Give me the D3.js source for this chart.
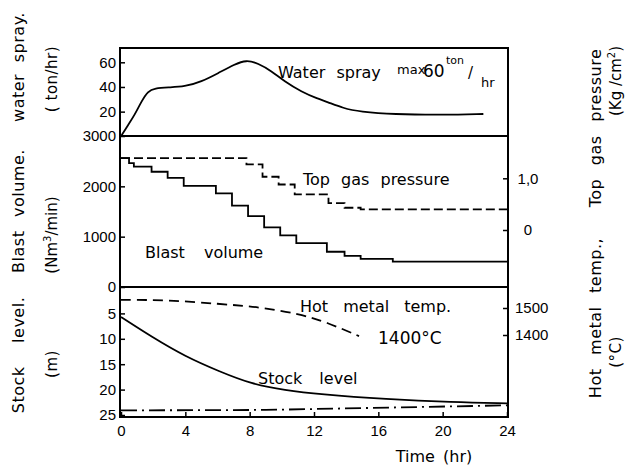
<!DOCTYPE html>
<html>
<head>
<meta charset="utf-8">
<script src="https://cdn.jsdelivr.net/npm/d3@7"></script>
<style>
  body { margin: 0; background: #fff; }
  svg { font-family: "DejaVu Sans", sans-serif; }
  .tick text { font-size: 15px; fill: #000; }
  .tick line { stroke: #000; stroke-width: 1.5; }
</style>
</head>
<body>
<svg id="chart" width="628" height="467"></svg>
<script>
// hours
const timeTicks = [0, 4, 8, 12, 16, 20, 24];

// water spray (ton/hr)
const waterT = [0, 0.44, 0.85, 1.26, 1.68, 2.1, 2.92, 3.96, 5.0, 6.03, 7.07, 7.79, 8.52, 9.35, 10.18, 11.21, 12.25, 12.79, 13.82, 14.86, 16.93, 20.04, 22.53];
const waterV = [0, 9.2, 17.3, 28, 36.7, 38.9, 39.7, 40.2, 44.3, 51.1, 58.4, 61.9, 59.2, 53, 44.3, 36.2, 30.3, 28.1, 22.7, 20, 17.8, 17.3, 18.1];

// blast volume (Nm3/min), steps: value holds from time until next time
const blastT = [0, 0.5, 0.8, 1.9, 2.9, 3.9, 5.9, 6.9, 7.9, 8.9, 9.9, 10.9, 12.8, 13.9, 14.9, 16.9, 24];
const blastV = [2560, 2460, 2390, 2290, 2170, 2010, 1860, 1615, 1410, 1185, 1025, 870, 700, 620, 560, 505, 505];

// top gas pressure (kg/cm2), steps
const pressT = [0, 7.8, 8.8, 9.8, 10.8, 12.9, 13.9, 14.9, 24];
const pressV = [1.39, 1.27, 1.03, 0.88, 0.69, 0.52, 0.43, 0.40, 0.40];

// hot metal temperature (deg C)
const tempT = [0, 2.9, 6.1, 8.6, 11.1, 12.75, 14.8];
const tempV = [1530, 1530, 1515, 1504, 1478, 1448, 1396];

// stock level (m)
const stockT = [0, 1.9, 4.0, 6.1, 8.1, 10.2, 12.3, 16.5, 20.6, 24];
const stockV = [5.7, 9.6, 13.5, 16.4, 18.9, 20.1, 20.9, 21.9, 22.5, 22.7];

// dash-dot reference line (m)
const refT = [0, 9, 24];
const refV = [24.1, 24.0, 23.1];

const svg = d3.select("#chart");
const L = 120, R = 508, T = 48, B = 417;

const x = d3.scaleLinear([0, 24], [121, 507]);
const yWater = d3.scaleLinear([0, 60], [136.3, 62.3]);
const yBlast = d3.scaleLinear([0, 3000], [287, 136]);
const yPress = d3.scaleLinear([0, 1], [230, 178.3]);
const yStock = d3.scaleLinear([0, 25], [288, 415]);
const yTemp = d3.scaleLinear([1400, 1500], [335, 308]);

function zip(ts, vs) { return ts.map((t, i) => [t, vs[i]]); }

// axes (ticks point inward)
function leftAxis(scale, vals, fmt) {
  const g = svg.append("g").attr("transform", `translate(${L},0)`)
    .call(d3.axisLeft(scale).tickValues(vals).tickSize(-5).tickPadding(4).tickFormat(fmt || d3.format("d")));
  g.select(".domain").remove();
  return g;
}
leftAxis(yWater, [20, 40, 60]);
leftAxis(yBlast, [0, 1000, 2000, 3000]);
leftAxis(yStock, [5, 10, 15, 20, 25]);

function rightAxis(scale, vals, fmt) {
  const g = svg.append("g").attr("transform", `translate(${R},0)`)
    .call(d3.axisRight(scale).tickValues(vals).tickSize(-5).tickPadding(7).tickFormat(fmt));
  g.select(".domain").remove();
  return g;
}
const pAx = rightAxis(yPress, [0, 1], d => d === 0 ? "0" : "1,0");
pAx.selectAll("text").attr("text-anchor", "middle").attr("x", 20);
rightAxis(yTemp, [1400, 1500], d3.format("d"));

const xAx = svg.append("g").attr("transform", `translate(0,${B})`)
  .call(d3.axisBottom(x).tickValues(timeTicks).tickSize(-5).tickPadding(8));
xAx.select(".domain").remove();

// frame and panel separators
svg.append("rect").attr("x", L).attr("y", T).attr("width", R - L).attr("height", B - T)
  .attr("fill", "none").attr("stroke", "#000").attr("stroke-width", 2);
svg.append("line").attr("x1", L).attr("x2", R).attr("y1", yBlast(3000)).attr("y2", yBlast(3000))
  .attr("stroke", "#000").attr("stroke-width", 1.8);
svg.append("line").attr("x1", L).attr("x2", R).attr("y1", yBlast(0)).attr("y2", yBlast(0))
  .attr("stroke", "#000").attr("stroke-width", 1.8);

// series
function draw(data, ys, curve, dash) {
  svg.append("path").datum(data)
    .attr("d", d3.line().x(d => x(d[0])).y(d => ys(d[1])).curve(curve))
    .attr("fill", "none").attr("stroke", "#000").attr("stroke-width", 1.8)
    .attr("stroke-dasharray", dash || null);
}
draw(zip(waterT, waterV), yWater, d3.curveBasis);
draw(zip(blastT, blastV), yBlast, d3.curveStepAfter);
draw(zip(pressT, pressV), yPress, d3.curveStepAfter, "9,4");
draw(zip(tempT, tempV), yTemp, d3.curveBasis, "10,6");
draw(zip(stockT, stockV), yStock, d3.curveBasis);
draw(zip(refT, refV), yStock, d3.curveLinear, "16,5,2,5");

// in-plot labels
function label(txt, px, py, size) {
  return svg.append("text").attr("x", px).attr("y", py).attr("font-size", size || 16)
    .attr("word-spacing", 6).text(txt);
}
label("Water spray", 278, 78);
label("max", 397, 74, 13);
label("60", 423, 77, 17);
label("ton", 446, 64, 11);
label("/", 468, 78, 15);
label("hr", 481, 87, 13);
label("Top gas pressure", 303, 185);
label("Blast volume", 145, 258).attr("word-spacing", 14);
label("Hot metal temp.", 300, 312).attr("word-spacing", 10);
label("1400°C", 378, 344, 17);
label("Stock level", 258, 384).attr("word-spacing", 12);

// axis titles (rotated)
function vtitle(txt, cx, cy, size, ws) {
  svg.append("text").attr("transform", `translate(${cx},${cy}) rotate(-90)`)
    .attr("text-anchor", "middle").attr("font-size", size).attr("word-spacing", ws || 0)
    .attr("letter-spacing", 0.5).text(txt);
}
vtitle("water spray.", 24, 67, 16, 6);
vtitle("Blast volume.", 24, 211, 16, 8);
vtitle("Stock level.", 24, 355, 16, 18);
vtitle("( ton/hr)", 57, 79, 15);
svg.append("text").attr("transform", "translate(57,235) rotate(-90)")
  .attr("text-anchor", "middle").attr("font-size", 15)
  .call(t => { t.append("tspan").text("(Nm");
               t.append("tspan").attr("font-size", 10).attr("dy", -6).text("3");
               t.append("tspan").attr("dy", 6).text("/min)"); });
vtitle("(m)", 57, 364, 15);

vtitle("Top gas pressure", 601, 128, 16, 8);
svg.append("text").attr("transform", "translate(621,81) rotate(-90)")
  .attr("text-anchor", "middle").attr("font-size", 15)
  .call(t => { t.append("tspan").text("(Kg /cm");
               t.append("tspan").attr("font-size", 10).attr("dy", -6).text("2");
               t.append("tspan").attr("dy", 6).text(")"); });
vtitle("Hot metal temp.,", 601, 318, 16, 8);
vtitle("(°C)", 621, 352, 15);

// x title
svg.append("text").attr("x", 434).attr("y", 462).attr("text-anchor", "middle")
  .attr("font-size", 16).attr("word-spacing", 3).text("Time (hr)");
</script>
</body>
</html>
